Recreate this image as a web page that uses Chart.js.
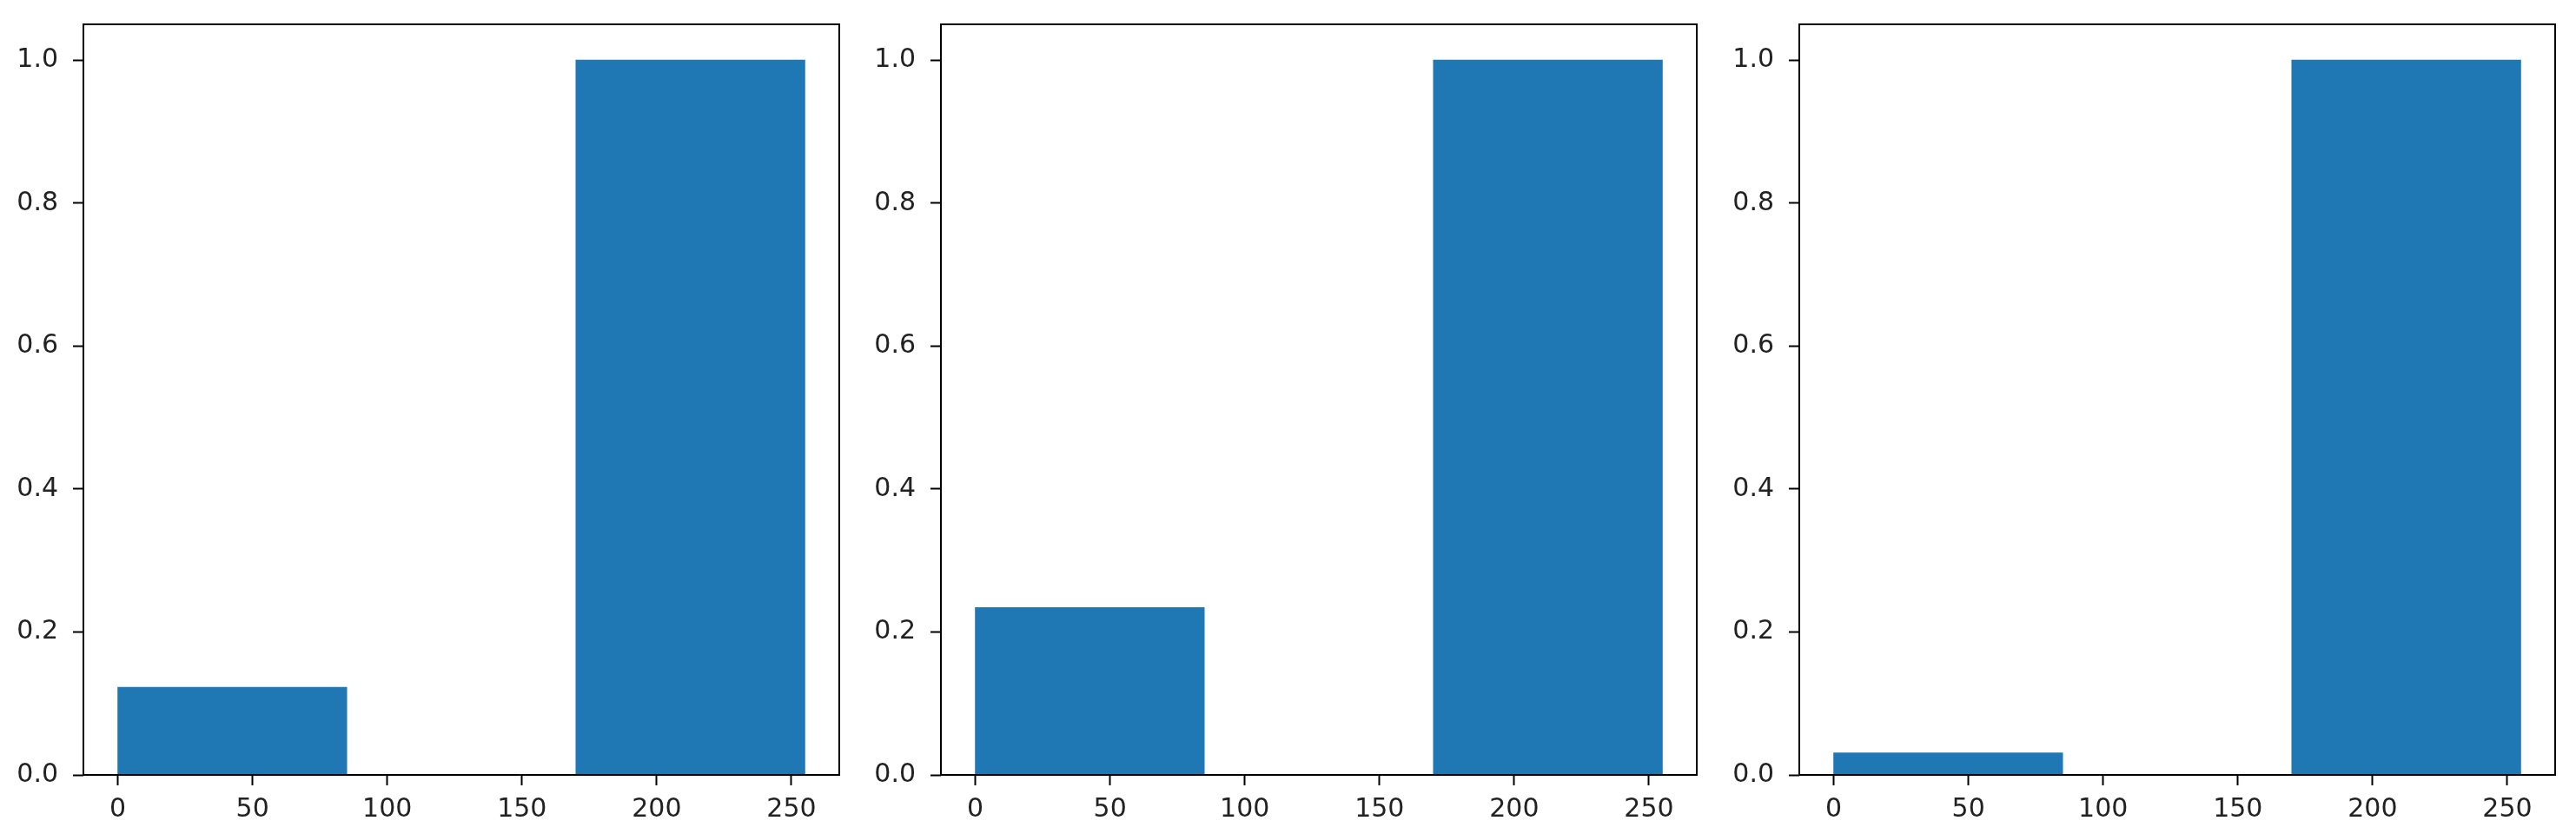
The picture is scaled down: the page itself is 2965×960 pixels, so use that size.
<!DOCTYPE html>
<html>
<head>
<meta charset="utf-8">
<script src="https://cdn.jsdelivr.net/npm/chart.js@4.4.1/dist/chart.umd.min.js"></script>
<style>
  html, body { margin: 0; padding: 0; background: #fff; }
  #wrap { position: relative; width: 2965px; height: 960px; }
  canvas { position: absolute; top: 0; }
</style>
</head>
<body>
<div id="wrap">
  <canvas id="hist1" width="974" height="960" style="left:0px"></canvas>
  <canvas id="hist2" width="974" height="960" style="left:987px"></canvas>
  <canvas id="hist3" width="974" height="960" style="left:1975px"></canvas>
</div>
<script>
// histogram bins (pixel value ranges)
const binEdges = [0, 85, 170, 255];
const binCenters = [42.5, 127.5, 212.5];

// normalised counts per panel
const hist1Values = [0.1226, 0, 1.0];
const hist2Values = [0.234, 0, 1.0];
const hist3Values = [0.031, 0, 1.0];

const xTicks = [0, 50, 100, 150, 200, 250];
const yTicks = [0, 0.2, 0.4, 0.6, 0.8, 1.0];

const xMin = -12.75;
const xMax = 267.75;
const yMax = 1.05;

const tickFont = { family: "DejaVu Sans", size: 30 };
const textColor = "#222";

// black frame round the plot area, like a matplotlib axes box
const framePlugin = {
  id: "frame",
  afterDraw(chart) {
    const { ctx, chartArea } = chart;
    ctx.save();
    ctx.strokeStyle = "#000";
    ctx.lineWidth = 2;
    ctx.strokeRect(chartArea.left, chartArea.top,
      chartArea.right - chartArea.left, chartArea.bottom - chartArea.top);
    ctx.restore();
  },
};

function makeHist(id, values) {
  const ctx = document.getElementById(id).getContext("2d");
  return new Chart(ctx, {
    type: "bar",
    data: {
      datasets: [
        {
          data: binCenters.map((x, i) => ({ x: x, y: values[i] })),
          backgroundColor: "#1f77b4",
          borderWidth: 0,
          barPercentage: 1.0,
          categoryPercentage: 1.0,
          xAxisID: "xBins",
        },
      ],
    },
    options: {
      responsive: false,
      animation: false,
      layout: { padding: { top: 28, right: 8, left: 0, bottom: 0 } },
      plugins: {
        legend: { display: false },
        tooltip: { enabled: false },
      },
      scales: {
        // hidden axis the bars sit on, ticks at the bin edges so bars fill each bin
        xBins: {
          type: "linear",
          display: false,
          offset: false,
          grid: { offset: false },
          min: xMin,
          max: xMax,
          afterBuildTicks: (scale) => {
            scale.ticks = binEdges.map((v) => ({ value: v }));
          },
        },
        x: {
          type: "linear",
          position: "bottom",
          offset: false,
          min: xMin,
          max: xMax,
          afterBuildTicks: (scale) => {
            scale.ticks = xTicks.map((v) => ({ value: v }));
          },
          afterFit: (scale) => {
            scale.height = 68;
            scale.paddingLeft = 0;
            scale.paddingRight = 0;
          },
          border: { display: false },
          grid: {
            offset: false,
            drawOnChartArea: false,
            drawTicks: true,
            tickLength: 12,
            tickWidth: 2,
            tickColor: "#000",
          },
          ticks: {
            font: tickFont,
            color: textColor,
            padding: 10,
            maxRotation: 0,
            callback: (v) => String(v),
          },
        },
        y: {
          type: "linear",
          min: 0,
          max: yMax,
          afterBuildTicks: (scale) => {
            scale.ticks = yTicks.map((v) => ({ value: v }));
          },
          afterFit: (scale) => {
            scale.width = 96;
            scale.paddingTop = 0;
            scale.paddingBottom = 0;
          },
          border: { display: false },
          grid: {
            drawOnChartArea: false,
            drawTicks: true,
            tickLength: 12,
            tickWidth: 2,
            tickColor: "#000",
          },
          ticks: {
            font: tickFont,
            color: textColor,
            padding: 17,
            callback: (v) => Number(v).toFixed(1),
          },
        },
      },
    },
    plugins: [framePlugin],
  });
}

makeHist("hist1", hist1Values);
makeHist("hist2", hist2Values);
makeHist("hist3", hist3Values);
</script>
</body>
</html>
